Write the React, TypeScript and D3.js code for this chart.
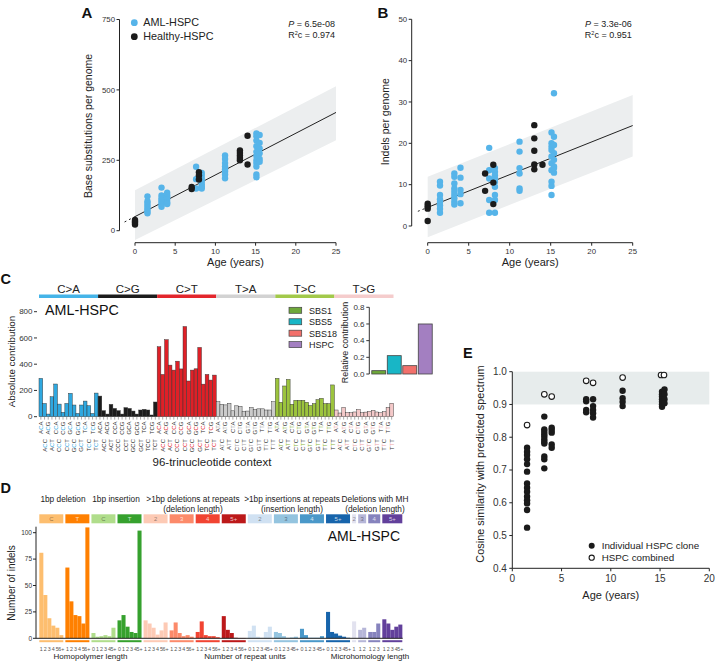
import React from 'react';
import * as d3 from 'd3';

const FONT = '"Liberation Sans", Arial, Helvetica, sans-serif';
const BLUE = '#56B4E9';
const DARK = '#1b1b1b';
const BAND = '#eceeef';

// ---------------- Panel A: base substitutions ----------------
const ageTicks = [0, 5, 10, 15, 20, 25];
const subsTicks = [0, 250, 500, 750];
const subsAmlAges = [1.55, 3.3, 4.0, 7.6, 8.3, 11.2, 15.1, 15.5];
const subsAmlValues = [
  [122, 105, 98, 90, 82, 75, 68, 62],
  [153, 125, 115, 108, 100, 92, 85],
  [135, 125, 118, 110, 100, 95],
  [227, 183, 150],
  [205, 195, 185, 175, 165, 157, 150],
  [267, 255, 240, 228, 218, 210, 200, 186],
  [345, 335, 320, 300, 280, 265, 250, 240, 228, 200, 190],
  [340, 312, 292, 275, 255, 245],
];
const subsHealthyAges = [0, 7.05, 7.95, 13.05, 14.0];
const subsHealthyValues = [
  [22, 28, 33, 38],
  [155, 148],
  [208, 196, 182],
  [285, 276, 267, 258, 250],
  [337, 235],
];
const subsBandAges = [0, 25];
const subsBandLow = [-33, 321];
const subsBandHigh = [144, 513];
const subsFitAges = [0, 25];
const subsFitValues = [50, 420];
const subsExtAges = [-1.3, 0];
const subsExtValues = [31, 50];

// ---------------- Panel B: indels ----------------
const indelTicks = [0, 10, 20, 30, 40, 50];
const indelAmlAges = [1.5, 3.25, 4.0, 7.5, 8.2, 11.2, 15.1, 15.4];
const indelAmlValues = [
  [10.7, 9.8, 7.5, 6.5, 5.8, 5.0, 4.2, 3.2],
  [12.7, 11.9, 10.3, 9.1, 8.3, 7.5, 6.7, 5.9, 5.2],
  [14.1, 11.7, 8.7, 7.7, 5.5],
  [18.9, 13.5, 11.5, 6.3, 3.2],
  [14.0, 13.1, 12.3, 11.5, 10.7, 9.5, 7.5, 6.3, 3.2],
  [20.4, 18.0, 14.0, 12.7, 9.1, 8.5],
  [22.6, 20.0, 19.2, 18.4, 16.8, 15.2, 13.5, 10.7, 9.7, 7.5],
  [32.1, 21.6, 19.6, 17.6, 16.0, 14.4, 12.9, 14.0],
];
const indelHealthyAges = [0, 7.0, 8.0, 13.0, 14.0];
const indelHealthyValues = [
  [5.4, 4.8, 4.2, 1.2],
  [12.7, 8.5],
  [14.8, 10.5, 5.3],
  [24.4, 21.2, 18.2, 14.9, 13.7],
  [14.8],
];
const indelBandAges = [0, 25];
const indelBandLow = [-2.7, 16.8];
const indelBandHigh = [11.9, 31.7];
const indelFitAges = [0, 25];
const indelFitValues = [4.5, 24.3];
const indelExtAges = [-1.2, 0];
const indelExtValues = [3.55, 4.5];

// ---------------- Panel C: 96 profile ----------------
const mutationTypes = ['C>A', 'C>G', 'C>T', 'T>A', 'T>C', 'T>G'];
const mutationBarColors = ['#2fa8e0', '#1c1c1c', '#df2027', '#cbcbcb', '#9cc43d', '#f4c9c9'];
const mutationStripColors = ['#45b4e8', '#1c1c1c', '#e3262c', '#d2d2d2', '#a2c94a', '#f5cccc'];
const mutationLabelColors = ['#2fa8e0', '#1c1c1c', '#df2027', '#a8a8a8', '#8db83a', '#eca6a6'];
const contextBases = ['A', 'C', 'G', 'T'];
const spectrumCA = [292, 101, 20, 152, 249, 96, 33, 101, 178, 89, 25, 89, 119, 84, 25, 180];
const spectrumCG = [157, 46, 20, 94, 63, 46, 20, 69, 63, 43, 20, 51, 56, 51, 13, 112];
const spectrumCT = [533, 322, 587, 393, 355, 423, 364, 687, 272, 355, 365, 528, 248, 322, 279, 317];
const spectrumTA = [114, 95, 90, 102, 45, 83, 79, 42, 43, 70, 55, 60, 60, 51, 51, 114];
const spectrumTC = [292, 110, 234, 284, 95, 125, 125, 125, 110, 85, 100, 130, 140, 100, 100, 242];
const spectrumTG = [51, 28, 70, 32, 30, 36, 54, 30, 35, 40, 48, 36, 30, 38, 71, 102];
const spectrumValues = [spectrumCA, spectrumCG, spectrumCT, spectrumTA, spectrumTC, spectrumTG];
const spectrumTicks = [0, 200, 400, 600, 800];
const signatureNames = ['SBS1', 'SBS5', 'SBS18', 'HSPC'];
const signatureContribution = [0.04, 0.22, 0.1, 0.6];
const signatureColors = ['#6ea83a', '#18b6c6', '#f2706b', '#a37fc1'];
const relativeTicks = [0, 0.2, 0.4, 0.6, 0.8];

// ---------------- Panel D: indel profile ----------------
const indelGroupLabels = ['C', 'T', 'C', 'T', '2', '3', '4', '5+', '2', '3', '4', '5+', '2', '3', '4', '5+'];
const indelGroupColors = [
  '#FDBE6F', '#FF8001', '#B0DD8B', '#36A12E',
  '#FDCAB5', '#FC8A6A', '#F14432', '#BC191A',
  '#D0E1F2', '#94C4DF', '#4A98C9', '#1764AB',
  '#E2E2EF', '#B6B6D8', '#8683BD', '#62409B',
];
const indelGroupDark = [false, true, false, true, false, true, true, true, false, false, true, true, false, false, true, true];
const del1C = [81, 41, 19, 12, 10, 3];
const del1T = [67, 35, 22, 21, 14, 105];
const ins1C = [5, 1.5, 2, 3, 2, 10];
const ins1T = [17, 22, 11, 6, 5, 102];
const delRep2 = [17, 14, 10, 3.5, 7.5, 15];
const delRep3 = [7.5, 15, 5, 2, 3, 1.5];
const delRep4 = [6, 16, 3, 2, 2, 1];
const delRep5 = [21, 8, 5, 0.5, 0.3, 0.3];
const insRep2 = [7, 12, 1.5, 0.5, 6, 11];
const insRep3 = [6, 5, 2, 0.5, 0.8, 1.5];
const insRep4 = [9, 3, 0.5, 0.5, 0.5, 2];
const insRep5 = [25, 6, 4.5, 2.5, 1.5, 0.5];
const mhDel2 = [16];
const mhDel3 = [8, 10];
const mhDel4 = [6, 6, 14];
const mhDel5 = [18, 14, 8, 11, 13];
const indelGroupValues = [
  del1C, del1T, ins1C, ins1T, delRep2, delRep3, delRep4, delRep5,
  insRep2, insRep3, insRep4, insRep5, mhDel2, mhDel3, mhDel4, mhDel5,
];
const delLengthLabels = ['1', '2', '3', '4', '5', '6+'];
const insLengthLabels = ['0', '1', '2', '3', '4', '5+'];
const mhLengthLabels = ['1', '2', '3', '4', '5+'];
const indelCountTicks = [0, 25, 50, 75, 100];
const indelTitles = [
  { lines: ['1bp deletion'], x: 63 },
  { lines: ['1bp insertion'], x: 116 },
  { lines: ['>1bp deletions at repeats', '(deletion length)'], x: 193 },
  { lines: ['>1bp insertions at repeats', '(insertion length)'], x: 292 },
  { lines: ['Deletions with MH', '(deletion length)'], x: 375 },
];
const indelAxisTitles = [
  { text: 'Homopolymer length', x: 90.5 },
  { text: 'Number of repeat units', x: 245 },
  { text: 'Microhomology length', x: 370 },
];

// ---------------- Panel E: cosine similarity ----------------
const cosineAges = [1.5, 3.25, 4.0, 7.5, 8.2, 11.2, 15.2, 15.45];
const cosineIndividual = [
  [0.768, 0.756, 0.746, 0.733, 0.718, 0.695, 0.659, 0.646, 0.634, 0.619, 0.608, 0.598, 0.578, 0.524],
  [0.863, 0.824, 0.817, 0.809, 0.802, 0.794, 0.786, 0.781, 0.741, 0.733, 0.705],
  [0.829, 0.822, 0.814, 0.778, 0.768],
  [0.916, 0.91, 0.883, 0.876],
  [0.916, 0.895, 0.883, 0.873, 0.86],
  [0.942, 0.919, 0.908, 0.895],
  [0.939, 0.931, 0.924, 0.916, 0.908, 0.901, 0.893],
  [0.946, 0.931, 0.916, 0.904],
];
const cosineCombinedAges = [1.5, 3.25, 4.0, 7.5, 8.2, 11.2, 15.1, 15.4];
const cosineCombined = [0.837, 0.931, 0.924, 0.972, 0.966, 0.982, 0.99, 0.99];
const cosineTicks = [0.4, 0.5, 0.6, 0.7, 0.8, 0.9, 1.0];
const cosineAgeTicks = [0, 5, 10, 15, 20];

type Scale = d3.ScaleLinear<number, number>;

function ScatterPanel(props: {
  x: Scale; y: Scale; yAxisX: number; xAxisY: number; yTicks: number[];
  bandAges: number[]; bandLow: number[]; bandHigh: number[];
  fitAges: number[]; fitValues: number[]; extAges: number[]; extValues: number[];
  amlAges: number[]; amlValues: number[][]; healthyAges: number[]; healthyValues: number[][];
  yLabel: string; yLabelX: number; yLabelY: number; pText: string; r2Text: string; statsX: number;
  letter: string; letterX: number; legend: boolean;
}) {
  const p = props;
  const area = d3.area<number>()
    .x((d) => p.x(d))
    .y0((_, i) => p.y(p.bandLow[i]))
    .y1((_, i) => p.y(p.bandHigh[i]));
  const fit = d3.line<number>().x((d) => p.x(d)).y((_, i) => p.y(p.fitValues[i]));
  const ext = d3.line<number>().x((d) => p.x(d)).y((_, i) => p.y(p.extValues[i]));
  const yTop = p.y(p.yTicks[p.yTicks.length - 1]);
  const yBot = p.y(p.yTicks[0]);
  return (
    <g>
      <path d={area(p.bandAges) || ''} fill={BAND} />
      <path d={ext(p.extAges) || ''} stroke="#222" strokeWidth={1} strokeDasharray="2,3" fill="none" />
      <path d={fit(p.fitAges) || ''} stroke="#222" strokeWidth={1} fill="none" />
      {p.amlAges.map((a, gi) =>
        p.amlValues[gi].map((v, j) => (
          <circle key={`a${gi}-${j}`} cx={p.x(a)} cy={p.y(v)} r={3.2} fill={BLUE} />
        ))
      )}
      {p.healthyAges.map((a, gi) =>
        p.healthyValues[gi].map((v, j) => (
          <circle key={`h${gi}-${j}`} cx={p.x(a)} cy={p.y(v)} r={3.2} fill={DARK} />
        ))
      )}
      {/* y axis */}
      <line x1={p.yAxisX} x2={p.yAxisX} y1={yTop} y2={yBot} stroke="#222" strokeWidth={1} />
      {p.yTicks.map((t) => (
        <g key={t}>
          <line x1={p.yAxisX - 3} x2={p.yAxisX} y1={p.y(t)} y2={p.y(t)} stroke="#222" />
          <text x={p.yAxisX - 4.5} y={p.y(t)} dy="0.34em" textAnchor="end" fontSize={7.8} fill="#333">{t}</text>
        </g>
      ))}
      {/* x axis */}
      <line x1={p.x(0)} x2={p.x(25)} y1={p.xAxisY} y2={p.xAxisY} stroke="#222" strokeWidth={1} />
      {ageTicks.map((t) => (
        <g key={t}>
          <line x1={p.x(t)} x2={p.x(t)} y1={p.xAxisY} y2={p.xAxisY + 3} stroke="#222" />
          <text x={p.x(t)} y={p.xAxisY + 11} textAnchor="middle" fontSize={7.8} fill="#333">{t}</text>
        </g>
      ))}
      <text x={(p.x(0) + p.x(25)) / 2} y={265.5} textAnchor="middle" fontSize={11} fill="#222">Age (years)</text>
      <text transform={`translate(${p.yLabelX},${p.yLabelY}) rotate(-90)`} textAnchor="middle" dominantBaseline="central" fontSize={10.5} fill="#222">{p.yLabel}</text>
      <text x={p.statsX} y={27} textAnchor="end" fontSize={9} fill="#222">
        <tspan fontStyle="italic">P</tspan> = {p.pText}
      </text>
      <text x={p.statsX} y={38} textAnchor="end" fontSize={9} fill="#222">
        R<tspan fontSize={5.5} dy={-3.5}>2</tspan><tspan dy={3.5}>c = {p.r2Text}</tspan>
      </text>
      <text x={p.letterX} y={17.5} fontSize={15} fontWeight="bold" fill="#111">{p.letter}</text>
      {p.legend && (
        <g>
          <circle cx={134.3} cy={22.7} r={3.4} fill={BLUE} />
          <text x={143.3} y={26.4} fontSize={10.8} fill="#222">AML-HSPC</text>
          <circle cx={134.3} cy={36.7} r={3.4} fill={DARK} />
          <text x={143.3} y={40.4} fontSize={10.8} fill="#222">Healthy-HSPC</text>
        </g>
      )}
    </g>
  );
}

function PanelC() {
  const n = mutationTypes.length * 16;
  const x = d3.scaleBand<number>().domain(d3.range(n)).range([39, 393.5]).paddingInner(0);
  const y = d3.scaleLinear().domain([0, 800]).range([416.7, 311.7]);
  const bw = x.bandwidth();
  const bars: { i: number; v: number; t: number; label: string[] }[] = [];
  mutationTypes.forEach((mt, t) => {
    const ref = mt[0];
    let k = 0;
    contextBases.forEach((b1) => {
      contextBases.forEach((b3) => {
        bars.push({ i: t * 16 + k, v: spectrumValues[t][k], t, label: [b1, ref, b3] });
        k++;
      });
    });
  });
  // inset
  const ix = d3.scaleBand<string>().domain(signatureNames).range([371, 433]).paddingInner(0.1).paddingOuter(0.05);
  const iy = d3.scaleLinear().domain([0, 0.8]).range([374, 307.3]);
  return (
    <g>
      <text x={0.5} y={284} fontSize={14.5} fontWeight="bold" fill="#111">C</text>
      {mutationTypes.map((mt, t) => {
        const x0 = x(t * 16) as number;
        const x1 = (x(t * 16 + 15) as number) + bw;
        return (
          <g key={mt}>
            <rect x={x0} y={294.5} width={x1 - x0} height={3.5} fill={mutationStripColors[t]} />
            <text x={(x0 + x1) / 2} y={292.5} textAnchor="middle" fontSize={11.5} fill="#222">{mt}</text>
          </g>
        );
      })}
      {spectrumTicks.map((t) => (
        <g key={t}>
          <line x1={34} x2={37} y1={y(t)} y2={y(t)} stroke="#333" />
          <text x={32.5} y={y(t)} dy="0.34em" textAnchor="end" fontSize={8} fill="#333">{t}</text>
        </g>
      ))}
      <text transform={`translate(11,361.5) rotate(-90)`} textAnchor="middle" dominantBaseline="central" fontSize={9.8} fill="#222">Absolute contribution</text>
      {bars.map((b) => (
        <rect key={b.i} x={x(b.i)} y={y(b.v)} width={bw} height={y(0) - y(b.v)}
          fill={mutationBarColors[b.t]} stroke="#333" strokeWidth={0.45} />
      ))}
      {bars.map((b) => {
        const cx = (x(b.i) as number) + bw / 2;
        const top = b.i % 2 === 0 ? 421.5 : 439;
        return (
          <g key={`l${b.i}`}>
            <line x1={cx} x2={cx} y1={417} y2={419.6} stroke="#555" strokeWidth={0.5} />
            <text transform={`translate(${cx},${top}) rotate(-90)`} textAnchor="end" dominantBaseline="central" fontSize={6} fill="#333">
              {b.label[0]}<tspan fill={mutationLabelColors[b.t]}>{b.label[1]}</tspan>{b.label[2]}
            </text>
          </g>
        );
      })}
      <text x={212} y={466} textAnchor="middle" fontSize={11.5} fill="#222">96-trinucleotide context</text>
      <text x={45} y={315} fontSize={14.3} fill="#111">AML-HSPC</text>
      {/* legend */}
      {signatureNames.map((s, i) => (
        <g key={s}>
          <rect x={289} y={307.3 + i * 11.45} width={12.7} height={6} fill={signatureColors[i]} stroke="#444" strokeWidth={0.7} />
          <text x={309} y={313.6 + i * 11.45} fontSize={9} fill="#222">{s}</text>
        </g>
      ))}
      {/* inset */}
      <line x1={369.3} x2={369.3} y1={iy(0.8)} y2={iy(0)} stroke="#333" />
      {relativeTicks.map((t) => (
        <g key={t}>
          <line x1={366.3} x2={369.3} y1={iy(t)} y2={iy(t)} stroke="#333" />
          <text x={364.5} y={iy(t)} dy="0.34em" textAnchor="end" fontSize={8} fill="#333">{d3.format('.1f')(t)}</text>
        </g>
      ))}
      <text transform={`translate(345,342.5) rotate(-90)`} textAnchor="middle" dominantBaseline="central" fontSize={9} fill="#222">Relative contribution</text>
      {signatureNames.map((s, i) => (
        <rect key={s} x={ix(s)} y={iy(signatureContribution[i])} width={ix.bandwidth()}
          height={iy(0) - iy(signatureContribution[i])} fill={signatureColors[i]} stroke="#444" strokeWidth={0.8} />
      ))}
    </g>
  );
}

function PanelD() {
  const gapSlots = 0.5175;
  const groupStart: number[] = [];
  let flat = 0;
  indelGroupValues.forEach((vals, g) => {
    groupStart.push(flat + g * gapSlots);
    flat += vals.length;
  });
  const totalSlots = flat + (indelGroupValues.length - 1) * gapSlots;
  const x = d3.scaleLinear().domain([0, totalSlots]).range([39.3, 402.3]);
  const y = d3.scaleLinear().domain([0, 100]).range([638.3, 532.7]);
  const w = x(1) - x(0);
  const labelsFor = (g: number, len: number) => {
    if (g <= 1 || (g >= 4 && g <= 7)) return delLengthLabels;
    if (g <= 3 || (g >= 8 && g <= 11)) return insLengthLabels;
    return mhLengthLabels.slice(0, len).map((l, i) => (i === len - 1 && len === 5 ? '5+' : l));
  };
  return (
    <g>
      <text x={0.5} y={493} fontSize={14.5} fontWeight="bold" fill="#111">D</text>
      {indelTitles.map((t) => (
        <text key={t.lines[0]} textAnchor="middle" fontSize={8.3} fill="#222">
          {t.lines.map((l, i) => (
            <tspan key={i} x={t.x} y={501.5 + i * 10}>{l}</tspan>
          ))}
        </text>
      ))}
      {indelGroupValues.map((vals, g) => {
        const x0 = x(groupStart[g]);
        const x1 = x(groupStart[g] + vals.length);
        const labs = labelsFor(g, vals.length);
        return (
          <g key={g}>
            <rect x={x0} y={514.3} width={x1 - x0} height={9} fill={indelGroupColors[g]} />
            <text x={(x0 + x1) / 2} y={521.2} textAnchor="middle" fontSize={6}
              fill={indelGroupDark[g] ? 'rgba(255,255,255,0.75)' : 'rgba(0,0,0,0.45)'}>{indelGroupLabels[g]}</text>
            {vals.map((v, k) => (
              <rect key={k} x={x(groupStart[g] + k)} y={y(v)} width={w + 0.05} height={y(0) - y(v)} fill={indelGroupColors[g]} />
            ))}
            <rect x={x0} y={640.2} width={x1 - x0} height={2} fill={indelGroupColors[g]} />
            {vals.map((_, k) => (
              <text key={`n${k}`} x={x(groupStart[g] + k + 0.5)} y={650.5} textAnchor="middle" fontSize={5.3} fill="#555">{labs[k]}</text>
            ))}
          </g>
        );
      })}
      <line x1={36} x2={402.7} y1={y(0)} y2={y(0)} stroke="#222" strokeWidth={1} />
      <line x1={36} x2={36} y1={526.7} y2={y(0)} stroke="#222" strokeWidth={1} />
      {indelCountTicks.map((t) => (
        <g key={t}>
          <line x1={33} x2={36} y1={y(t)} y2={y(t)} stroke="#222" />
          <text x={32} y={y(t)} dy="0.34em" textAnchor="end" fontSize={6.5} fill="#333">{t}</text>
        </g>
      ))}
      <text transform={`translate(11,583) rotate(-90)`} textAnchor="middle" dominantBaseline="central" fontSize={10} fill="#222">Number of indels</text>
      {indelAxisTitles.map((t) => (
        <text key={t.text} x={t.x} y={659} textAnchor="middle" fontSize={8} fill="#222">{t.text}</text>
      ))}
      <text x={400} y={540.5} textAnchor="end" fontSize={14} fill="#111">AML-HSPC</text>
    </g>
  );
}

function PanelE() {
  const x = d3.scaleLinear().domain([0, 20]).range([512.3, 709.3]);
  const y = d3.scaleLinear().domain([0.4, 1.0]).range([568.3, 371.7]);
  return (
    <g>
      <text x={463} y={358.3} fontSize={14.5} fontWeight="bold" fill="#111">E</text>
      <rect x={x(0)} y={y(1.0)} width={x(20) - x(0)} height={y(0.9) - y(1.0)} fill="#e7ecec" />
      <line x1={x(0)} x2={x(0)} y1={y(1.0)} y2={y(0.4)} stroke="#222" />
      {cosineTicks.map((t) => (
        <g key={t}>
          <line x1={x(0) - 3} x2={x(0)} y1={y(t)} y2={y(t)} stroke="#222" />
          <text x={x(0) - 5.5} y={y(t)} dy="0.34em" textAnchor="end" fontSize={10} fill="#333">{d3.format('.1f')(t)}</text>
        </g>
      ))}
      <line x1={x(0)} x2={x(20)} y1={y(0.4)} y2={y(0.4)} stroke="#222" />
      {cosineAgeTicks.map((t) => (
        <g key={t}>
          <line x1={x(t)} x2={x(t)} y1={y(0.4)} y2={y(0.4) + 3} stroke="#222" />
          <text x={x(t)} y={y(0.4) + 14} textAnchor="middle" fontSize={10} fill="#333">{t}</text>
        </g>
      ))}
      <text x={(x(0) + x(20)) / 2} y={598.5} textAnchor="middle" fontSize={11} fill="#222">Age (years)</text>
      <text transform={`translate(480,464) rotate(-90)`} textAnchor="middle" dominantBaseline="central" fontSize={10.9} fill="#222">Cosine similarity with predicted spectrum</text>
      {cosineAges.map((a, gi) =>
        cosineIndividual[gi].map((v, j) => (
          <circle key={`${gi}-${j}`} cx={x(a)} cy={y(v)} r={3.2} fill={DARK} />
        ))
      )}
      {cosineCombinedAges.map((a, i) => (
        <circle key={`c${i}`} cx={x(a)} cy={y(cosineCombined[i])} r={2.8} fill="#fff" stroke={DARK} strokeWidth={1.1} />
      ))}
      <circle cx={591.7} cy={545.7} r={3} fill={DARK} />
      <text x={601.7} y={549.2} fontSize={9.8} fill="#222">Individual HSPC clone</text>
      <circle cx={591.7} cy={557.7} r={2.6} fill="#fff" stroke={DARK} strokeWidth={1.1} />
      <text x={601.7} y={561.2} fontSize={9.8} fill="#222">HSPC combined</text>
    </g>
  );
}

export default function App() {
  const xA = d3.scaleLinear().domain([0, 25]).range([135, 336]);
  const yA = d3.scaleLinear().domain([0, 750]).range([230.7, 19.5]);
  const xB = d3.scaleLinear().domain([0, 25]).range([427.7, 632.7]);
  const yB = d3.scaleLinear().domain([0, 50]).range([226, 19.3]);
  return (
    <svg width={715} height={661} style={{ position: 'absolute', left: 0, top: 0, background: '#fff' }} fontFamily={FONT}>
      <rect width={715} height={661} fill="#fff" />
      <ScatterPanel x={xA} y={yA} yAxisX={119.5} xAxisY={242.7} yTicks={subsTicks}
        bandAges={subsBandAges} bandLow={subsBandLow} bandHigh={subsBandHigh}
        fitAges={subsFitAges} fitValues={subsFitValues} extAges={subsExtAges} extValues={subsExtValues}
        amlAges={subsAmlAges} amlValues={subsAmlValues} healthyAges={subsHealthyAges} healthyValues={subsHealthyValues}
        yLabel="Base substitutions per genome" yLabelX={88} yLabelY={126}
        pText="6.5e-08" r2Text="0.974" statsX={335} letter="A" letterX={81.5} legend={true} />
      <ScatterPanel x={xB} y={yB} yAxisX={411.7} xAxisY={242.7} yTicks={indelTicks}
        bandAges={indelBandAges} bandLow={indelBandLow} bandHigh={indelBandHigh}
        fitAges={indelFitAges} fitValues={indelFitValues} extAges={indelExtAges} extValues={indelExtValues}
        amlAges={indelAmlAges} amlValues={indelAmlValues} healthyAges={indelHealthyAges} healthyValues={indelHealthyValues}
        yLabel="Indels per genome" yLabelX={385} yLabelY={121.7}
        pText="3.3e-06" r2Text="0.951" statsX={631.7} letter="B" letterX={377.5} legend={false} />
      <PanelC />
      <PanelD />
      <PanelE />
    </svg>
  );
}
